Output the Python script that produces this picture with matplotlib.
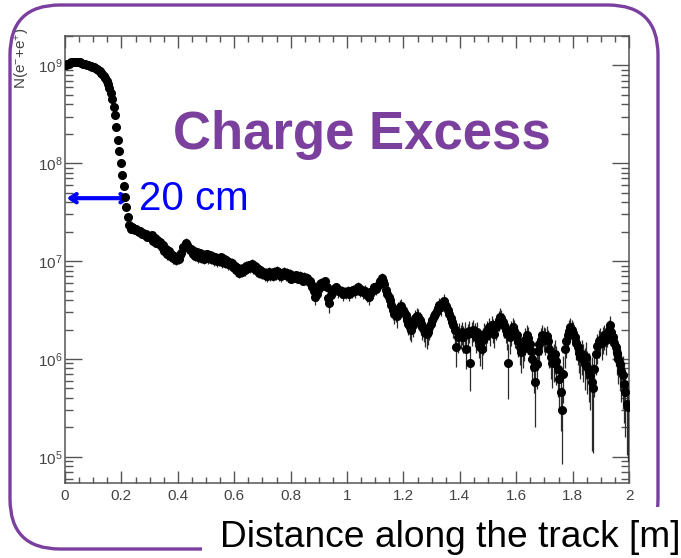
import numpy as np
import matplotlib
matplotlib.use('Agg')
import matplotlib.pyplot as plt
from matplotlib.patches import FancyBboxPatch, Rectangle
from matplotlib.ticker import FixedLocator, MultipleLocator, LogLocator, NullFormatter

plt.rcParams['font.family'] = ['Liberation Sans', 'DejaVu Sans']
plt.rcParams['mathtext.fontset'] = 'custom'
plt.rcParams['mathtext.rm'] = 'Liberation Sans'
plt.rcParams['mathtext.it'] = 'Liberation Sans:italic'

# histogram: 400 bins of 5 mm between 0 and 2 m
bin_edges = np.linspace(0.0, 2.0, 401)

# N(e- + e+) per bin, in units of 1e6 (one row = 0.1 m)
counts_1e6 = [
    1000, 1023, 1047, 1059, 1072, 1084, 1084, 1084, 1084, 1072, 1072, 1059, 1047, 1035, 1023, 1012, 1000, 989, 977, 966,
    955, 933, 912, 891, 871, 841, 813, 776, 741, 700, 646, 589, 525, 457, 380, 309, 234, 174, 132, 100,
    75.9, 58.9, 45.7, 35.5, 28.2, 23.4, 21.4, 22.4, 21.9, 20.9, 21.4, 20.4, 20.0, 20.4, 19.1, 19.5, 18.6, 19.1, 17.8, 18.2,
    17.8, 18.6, 16.2, 17.4, 15.5, 16.6, 14.8, 15.8, 13.8, 14.5, 12.6, 13.2, 11.7, 12.6, 11.2, 11.7, 10.7, 11.2, 10.2, 11.0,
    10.5, 11.5, 12.0, 13.8, 14.1, 15.5, 14.5, 14.1, 12.9, 13.2, 11.7, 12.6, 11.2, 12.3, 11.0, 12.0, 10.7, 11.7, 10.5, 11.5,
    11.7, 10.7, 11.5, 10.5, 11.2, 10.2, 11.0, 10.0, 10.7, 10.2, 11.0, 9.8, 10.5, 9.5, 10.2, 9.3, 9.8, 9.1, 9.5, 8.7,
    8.9, 8.1, 8.5, 7.6, 8.1, 7.8, 8.5, 8.1, 8.9, 8.5, 9.1, 8.7, 9.3, 8.5, 8.9, 8.1, 8.5, 7.6, 8.1, 7.4,
    7.8, 7.2, 7.6, 7.0, 7.8, 7.2, 7.6, 7.1, 7.8, 7.4, 7.9, 7.2, 7.6, 7.0, 7.4, 7.8, 7.2, 7.6, 7.0, 7.4,
    6.6, 7.1, 6.8, 7.2, 6.9, 6.6, 7.1, 6.8, 6.3, 6.9, 6.5, 6.8, 6.3, 6.2, 5.9, 5.5, 5.0, 4.3, 4.6, 5.2,
    5.8, 6.0, 5.6, 5.9, 6.2, 5.5, 4.2, 3.7, 4.5, 5.0, 5.2, 5.1, 5.4, 4.9, 5.1, 4.8, 5.0, 4.6, 4.8, 4.7,
    4.9, 4.6, 5.0, 4.8, 5.1, 4.9, 5.2, 5.5, 5.2, 5.0, 5.1, 4.8, 5.0, 4.7, 4.5, 4.3, 4.6, 4.9, 5.1, 5.4,
    5.2, 5.5, 5.9, 6.3, 6.8, 6.3, 5.8, 5.1, 4.6, 4.3, 4.0, 3.6, 3.2, 2.9, 3.0, 2.75, 3.2, 3.4, 3.5, 3.2,
    3.0, 2.8, 2.5, 2.3, 2.1, 2.0, 2.2, 2.4, 2.6, 2.75, 2.7, 2.5, 2.3, 2.1, 2.0, 1.86, 1.78, 1.9, 2.1, 2.3,
    2.5, 2.75, 2.9, 3.1, 3.3, 3.55, 3.4, 3.7, 3.9, 3.6, 3.5, 3.2, 2.9, 2.6, 2.4, 2.2, 2.0, 1.32, 1.66, 1.82,
    1.74, 1.9, 1.66, 1.86, 1.26, 1.78, 1.95, 0.91, 1.86, 2.0, 1.82, 1.66, 1.9, 1.51, 1.32, 1.26, 1.58, 1.82, 1.7, 1.95,
    2.1, 1.9, 2.2, 2.0, 1.82, 2.1, 2.3, 2.5, 2.7, 2.6, 2.4, 2.2, 2.0, 1.78, 0.91, 1.66, 1.9, 2.1, 1.95, 1.82,
    1.74, 1.51, 1.32, 1.17, 1.26, 1.41, 1.58, 1.74, 1.62, 1.41, 1.2, 1.0, 0.83, 0.58, 0.89, 1.2, 1.41, 1.58, 1.74, 1.66,
    1.58, 1.7, 1.51, 1.26, 1.05, 0.91, 1.0, 1.12, 0.95, 0.79, 0.63, 0.46, 0.30, 0.71, 1.26, 1.51, 1.74, 1.95, 2.1, 2.0,
    1.86, 1.66, 1.45, 1.32, 1.15, 1.05, 1.12, 1.0, 0.89, 1.05, 0.83, 0.76, 0.69, 0.58, 0.50, 0.79, 1.12, 1.35, 1.51, 1.58,
    1.45, 1.62, 1.74, 1.58, 1.82, 2.0, 2.2, 1.9, 1.66, 1.45, 1.32, 1.15, 1.0, 0.89, 0.76, 0.69, 0.56, 0.46, 0.35, 0.32,
]

# error on each bin, in percent of the bin content
rel_err_pct = [
    1, 1, 1, 1, 1, 1, 1, 1, 1, 1, 1, 1, 1, 1, 1, 1, 1, 1, 1, 1,
    1, 1, 1, 1, 1, 1, 1, 1, 1, 1, 1, 1, 1, 1, 1, 1, 1, 1, 1, 1,
    3, 3, 3, 3, 3, 4, 4, 5, 5, 5, 5, 6, 6, 6, 6, 7, 7, 7, 7, 8,
    9, 10, 9, 10, 11, 9, 10, 11, 10, 9, 11, 10, 12, 10, 11, 10, 12, 11, 10, 12,
    11, 10, 12, 10, 11, 12, 10, 11, 12, 10, 11, 12, 11, 10, 12, 11, 10, 12, 11, 12,
    11, 12, 10, 12, 11, 13, 11, 12, 10, 12, 11, 13, 12, 11, 12, 13, 11, 12, 13, 12,
    12, 13, 11, 12, 13, 12, 11, 13, 12, 12, 11, 13, 12, 13, 12, 11, 13, 12, 13, 12,
    12, 13, 12, 13, 11, 12, 13, 12, 11, 13, 12, 13, 12, 13, 12, 11, 13, 12, 13, 12,
    9, 10, 9, 11, 10, 9, 12, 10, 9, 11, 10, 12, 10, 11, 12, 13, 14, 18, 15, 12,
    12, 11, 13, 12, 11, 13, 18, 20, 15, 13, 12, 13, 12, 14, 12, 13, 12, 14, 13, 12,
    13, 14, 12, 13, 12, 14, 13, 12, 13, 14, 13, 15, 13, 14, 16, 17, 15, 14, 13, 12,
    13, 12, 12, 11, 12, 13, 14, 15, 16, 17, 18, 19, 21, 22, 20, 24, 20, 19, 18, 20,
    20, 21, 22, 24, 25, 26, 24, 22, 21, 20, 21, 22, 24, 25, 26, 28, 29, 27, 25, 23,
    22, 21, 20, 19, 18, 18, 19, 17, 17, 18, 18, 19, 20, 22, 24, 25, 27, 38, 30, 28,
    28, 27, 30, 27, 38, 28, 26, 48, 27, 26, 28, 30, 27, 32, 36, 38, 30, 28, 29, 26,
    26, 28, 25, 27, 29, 26, 24, 23, 22, 23, 24, 26, 28, 30, 57, 32, 28, 26, 27, 29,
    28, 31, 34, 38, 36, 32, 30, 28, 30, 33, 37, 42, 46, 65, 44, 36, 32, 30, 28, 29,
    30, 28, 31, 36, 40, 44, 42, 38, 43, 48, 52, 60, 72, 50, 36, 32, 29, 27, 25, 26,
    27, 29, 32, 35, 38, 41, 39, 42, 46, 41, 47, 52, 56, 80, 78, 48, 39, 34, 32, 31,
    33, 30, 29, 31, 28, 26, 25, 27, 30, 33, 36, 40, 44, 47, 52, 55, 60, 65, 70, 72,
]

x_ticks = [0, 0.2, 0.4, 0.6, 0.8, 1.0, 1.2, 1.4, 1.6, 1.8, 2.0]
x_tick_labels = ['0', '0.2', '0.4', '0.6', '0.8', '1', '1.2', '1.4', '1.6', '1.8', '2']

x = 0.5 * (bin_edges[:-1] + bin_edges[1:])
y = np.array(counts_1e6) * 1e6
yerr = y * np.array(rel_err_pct) / 100.0

fig = plt.figure(figsize=(6.81, 5.58), dpi=100)
W, H = 681.0, 558.0
ax = fig.add_axes([65 / W, 1 - 483 / H, (629 - 65) / W, (483 - 36) / H])

ax.errorbar(x, y, yerr=yerr, fmt='o', ms=5.5, color='black', mec='black',
            ecolor='#2a2a2a', elinewidth=0.9, capsize=0, zorder=3)

ax.set_yscale('log')
ax.set_xlim(0, 2)
ax.set_ylim(5.4e4, 2.0e9)

ax.xaxis.set_major_locator(FixedLocator(x_ticks))
ax.set_xticklabels(x_tick_labels)
ax.xaxis.set_minor_locator(MultipleLocator(0.05))
ax.yaxis.set_major_locator(LogLocator(base=10))
ax.yaxis.set_minor_locator(LogLocator(base=10, subs=np.arange(2, 10)))
ax.yaxis.set_minor_formatter(NullFormatter())

ax.tick_params(which='both', direction='in', top=True, right=True,
               color='#555555', labelcolor='#444444', labelsize=11, width=1.0)
ax.tick_params(axis='x', which='major', length=8.5, pad=4)
ax.tick_params(axis='x', which='minor', length=4.3)
ax.tick_params(axis='y', which='major', length=12, pad=2)
ax.tick_params(axis='y', which='minor', length=5.5)
for s in ax.spines.values():
    s.set_color('#555555')
    s.set_linewidth(1.1)

# annotations
fig.text(173 / W, 1 - 149 / H, 'Charge Excess', fontsize=38, fontweight='bold',
         color='#7b3f9e', ha='left', va='baseline')
fig.text(139 / W, 1 - 210 / H, '20 cm', fontsize=29, color='#0000ff',
         ha='left', va='baseline')
ax.annotate('', xy=(0.006, 4.4e7), xytext=(0.232, 4.4e7),
            arrowprops=dict(arrowstyle='<->,head_length=0.45,head_width=0.3',
                            color='#0000ff', lw=3, shrinkA=0, shrinkB=0))

fig.text(22 / W, 1 - 58 / H, r'N(e$^{-}$+e$^{+}$)', rotation=90, fontsize=11,
         color='#444444', ha='center', va='center')

# purple rounded frame, opened at the bottom right for the axis title
frame = FancyBboxPatch((0.10, 0.09), 6.48, 5.44,
                       boxstyle='round,pad=0,rounding_size=0.5',
                       transform=fig.dpi_scale_trans, fill=False,
                       edgecolor='#7b3fa0', lw=2.4, zorder=5)
fig.add_artist(frame)
cover = Rectangle((2.02, 0.0), 4.9, 0.51, transform=fig.dpi_scale_trans,
                  facecolor='white', edgecolor='none', zorder=6)
fig.add_artist(cover)
fig.text(220 / W, 1 - 547 / H, 'Distance along the track [m]', fontsize=26.7,
         color='black', ha='left', va='baseline', zorder=7)

fig.savefig('out.png', dpi=100)
